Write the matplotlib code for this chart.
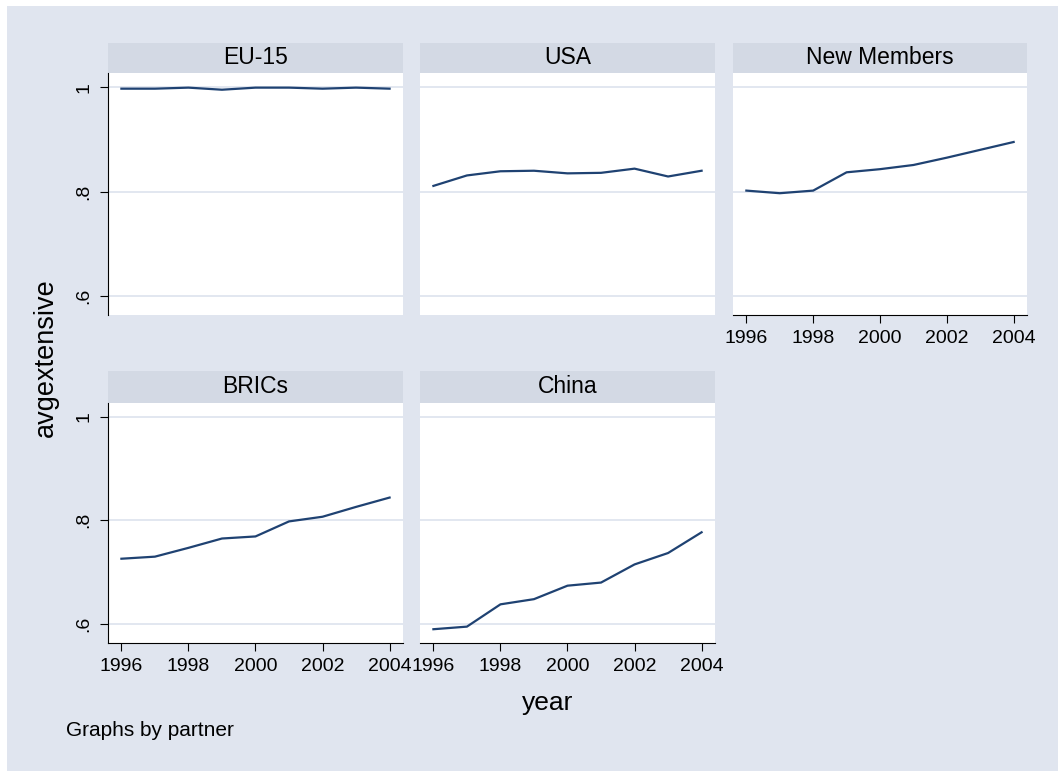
import matplotlib.pyplot as plt
from matplotlib.patches import Rectangle

plt.rcParams['font.family'] = ['Liberation Sans', 'DejaVu Sans']

# average extensive margin by partner group, 1996-2004
years = [1996, 1997, 1998, 1999, 2000, 2001, 2002, 2003, 2004]
eu15 = [0.997, 0.997, 0.999, 0.995, 0.999, 0.999, 0.997, 0.999, 0.997]
usa = [0.811, 0.831, 0.839, 0.840, 0.835, 0.836, 0.844, 0.829, 0.840]
new_members = [0.802, 0.797, 0.802, 0.837, 0.843, 0.851, 0.865, 0.880, 0.895]
brics = [0.726, 0.730, 0.747, 0.765, 0.769, 0.798, 0.807, 0.826, 0.844]
china = [0.590, 0.595, 0.638, 0.648, 0.674, 0.680, 0.715, 0.737, 0.777]

partners = ['EU-15', 'USA', 'New Members', 'BRICs', 'China']
series = [eu15, usa, new_members, brics, china]

yticks = [0.6, 0.8, 1.0]
ytick_labels = ['.6', '.8', '1']
xticks = [1996, 1998, 2000, 2002, 2004]

bg = '#e0e5ef'
strip_bg = '#d3d9e4'
grid_c = '#e2e7f0'
line_c = '#1f4272'

W, H = 1058, 771


def box(x0, y0, x1, y1):
    return [x0 / W, 1 - y1 / H, (x1 - x0) / W, (y1 - y0) / H]


fig = plt.figure(figsize=(W / 100, H / 100), dpi=100)
fig.patch.set_facecolor('white')
fig.patches.append(Rectangle((7 / W, 0), 1, 1 - 6 / H, transform=fig.transFigure,
                             facecolor=bg, edgecolor='none', zorder=-10))

cols = [(108, 403), (420, 715), (733, 1027)]
rows = [((43, 73), (73, 315)), ((371, 402.7), (402.7, 642.7))]

for i, (name, vals) in enumerate(zip(partners, series)):
    r, c = divmod(i, 3)
    (sy0, sy1), (py0, py1) = rows[r]
    x0, x1 = cols[c]

    # strip with group name
    sax = fig.add_axes(box(x0, sy0, x1, sy1))
    sax.set_facecolor(strip_bg)
    sax.set_xticks([])
    sax.set_yticks([])
    for s in sax.spines.values():
        s.set_visible(False)
    sax.text(0.5, 0.5, name, ha='center', va='center', fontsize=16.5,
             transform=sax.transAxes)

    ax = fig.add_axes(box(x0, py0, x1, py1))
    ax.set_facecolor('white')
    for yv in yticks:
        ax.axhline(yv, color=grid_c, lw=1.4, zorder=1)
    ax.plot(years, vals, color=line_c, lw=1.6, zorder=3)
    ax.set_xlim(1995.6, 2004.4)
    ax.set_ylim(0.564, 1.027)

    for s in ax.spines.values():
        s.set_visible(False)
    ax.tick_params(direction='out', length=6, width=0.8, color='black',
                   labelsize=14, pad=5)

    left_col = c == 0
    bottom = r == 1 or c == 2
    if left_col:
        ax.spines['left'].set_visible(True)
        ax.spines['left'].set_linewidth(0.8)
        ax.set_yticks(yticks)
        ax.set_yticklabels(ytick_labels, rotation=90, va='center')
    else:
        ax.set_yticks([])
    if bottom:
        ax.spines['bottom'].set_visible(True)
        ax.spines['bottom'].set_linewidth(0.8)
        ax.set_xticks(xticks)
        ax.set_xticklabels([str(x) for x in xticks])
    else:
        ax.set_xticks([])

fig.text(46 / W, 1 - 358 / H, 'avgextensive', rotation=90, ha='center',
         va='center', fontsize=19.5)
fig.text(548 / W, 1 - 703 / H, 'year', ha='center', va='center', fontsize=19)
fig.text(66 / W, 1 - 731 / H, 'Graphs by partner', ha='left', va='center',
         fontsize=15)

fig.savefig('out.png', dpi=100, facecolor=fig.get_facecolor())
